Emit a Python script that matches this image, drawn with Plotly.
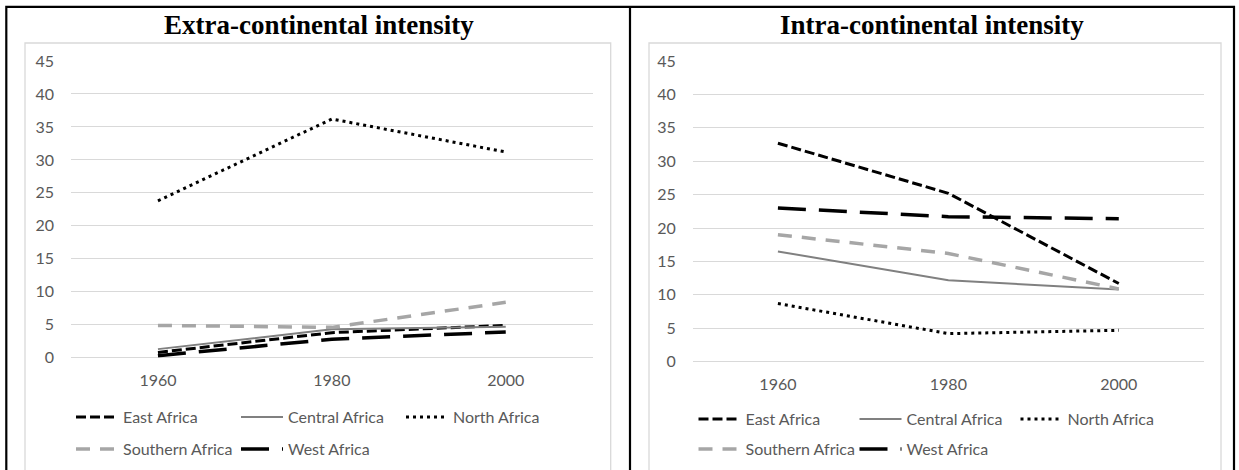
import plotly.graph_objects as go

# ---------------- data ----------------
years = ["1960", "1980", "2000"]
regions = ["East Africa", "Central Africa", "North Africa", "Southern Africa", "West Africa"]

extra_east = [0.8, 3.8, 4.9]
extra_central = [1.3, 4.3, 4.7]
extra_north = [23.8, 36.2, 31.2]
extra_southern = [4.9, 4.6, 8.4]
extra_west = [0.3, 2.8, 3.9]

intra_east = [32.7, 25.2, 11.7]
intra_central = [16.5, 12.2, 10.8]
intra_north = [8.7, 4.2, 4.7]
intra_southern = [19.0, 16.2, 10.9]
intra_west = [23.0, 21.7, 21.4]

y_tick_values = [0, 5, 10, 15, 20, 25, 30, 35, 40, 45]
panel_titles = ["Extra-continental intensity", "Intra-continental intensity"]

# ---------------- styles ----------------
W, H = 1239, 470
def px(x):
    return x / W
def py(y):
    return 1 - y / H

styles = {
    "East Africa": dict(color="#000000", width=3, dash="10px,4px"),
    "Central Africa": dict(color="#808080", width=2, dash="solid"),
    "North Africa": dict(color="#000000", width=3, dash="3px,4px"),
    "Southern Africa": dict(color="#A6A6A6", width=3.5, dash="14px,10px"),
    "West Africa": dict(color="#000000", width=3.5, dash="28px,13px"),
}

extra = [extra_east, extra_central, extra_north, extra_southern, extra_west]
intra = [intra_east, intra_central, intra_north, intra_southern, intra_west]

fig = go.Figure()

for i, (name, vals) in enumerate(zip(regions, extra)):
    fig.add_trace(go.Scatter(
        x=years, y=vals, mode="lines", name=name, line=styles[name],
        xaxis="x", yaxis="y", legend="legend" if i < 3 else "legend2",
        hoverinfo="skip"))

for i, (name, vals) in enumerate(zip(regions, intra)):
    fig.add_trace(go.Scatter(
        x=years, y=vals, mode="lines", name=name, line=styles[name],
        xaxis="x2", yaxis="y2", legend="legend3" if i < 3 else "legend4",
        hoverinfo="skip"))

tick_font = dict(family="Lato", size=16, color="#595959")

xcommon = dict(type="category", range=[-0.5, 2.5], showgrid=False, zeroline=False,
               showline=False, ticks="", tickfont=tick_font, ticklabelstandoff=11,
               automargin=False, fixedrange=True)
ycommon = dict(range=[0, 45], tickvals=y_tick_values, showgrid=True, gridcolor="#D9D9D9",
               gridwidth=1, zeroline=True, zerolinecolor="#D9D9D9", zerolinewidth=1,
               showline=False, ticks="", tickfont=tick_font, ticklabelstandoff=16,
               automargin=False, fixedrange=True)

leg_common = dict(orientation="h", xanchor="left", yanchor="middle",
                  bgcolor="rgba(0,0,0,0)", itemwidth=42, entrywidthmode="pixels",
                  font=dict(family="Lato", size=16, color="#595959"),
                  itemclick=False, itemdoubleclick=False)

fig.update_layout(
    width=W, height=H,
    margin=dict(l=0, r=0, t=0, b=0, autoexpand=False),
    paper_bgcolor="white", plot_bgcolor="white",
    xaxis=dict(domain=[px(71), px(592.7)], anchor="y", **xcommon),
    yaxis=dict(domain=[py(357.7), py(61)], anchor="x", **ycommon),
    xaxis2=dict(domain=[px(692.7), px(1204)], anchor="y2", **xcommon),
    yaxis2=dict(domain=[py(361.7), py(61)], anchor="x2", **ycommon),
    legend=dict(x=px(71), y=py(417), entrywidth=108, **leg_common),
    legend2=dict(x=px(71), y=py(449), entrywidth=108, **leg_common),
    legend3=dict(x=px(693.5), y=py(419), entrywidth=104, **leg_common),
    legend4=dict(x=px(693.5), y=py(449), entrywidth=104, **leg_common),
    showlegend=True,
)

# frame: outer border, divider, chart-area boxes
shapes = [
    dict(type="rect", xref="paper", yref="paper", x0=px(6.3), y0=py(480), x1=px(1234), y1=py(6.8),
         line=dict(color="black", width=2.2), fillcolor="rgba(0,0,0,0)", layer="above"),
    dict(type="line", xref="paper", yref="paper", x0=px(630), y0=py(480), x1=px(630), y1=py(6.8),
         line=dict(color="black", width=2.2)),
    dict(type="rect", xref="paper", yref="paper", x0=px(25), y0=py(480), x1=px(610.7), y1=py(43),
         line=dict(color="#D9D9D9", width=1.3), layer="below"),
    dict(type="rect", xref="paper", yref="paper", x0=px(649), y0=py(480), x1=px(1221), y1=py(43),
         line=dict(color="#D9D9D9", width=1.3), layer="below"),
]
fig.update_layout(shapes=shapes)

centers = [318.5, 932]
for t, cx in zip(panel_titles, centers):
    fig.add_annotation(text="<b>" + t + "</b>", xref="paper", yref="paper",
                       x=px(cx), y=py(25), xanchor="center", yanchor="middle",
                       showarrow=False,
                       font=dict(family="Liberation Serif", size=27, color="black"))

fig.write_html("out.html")
